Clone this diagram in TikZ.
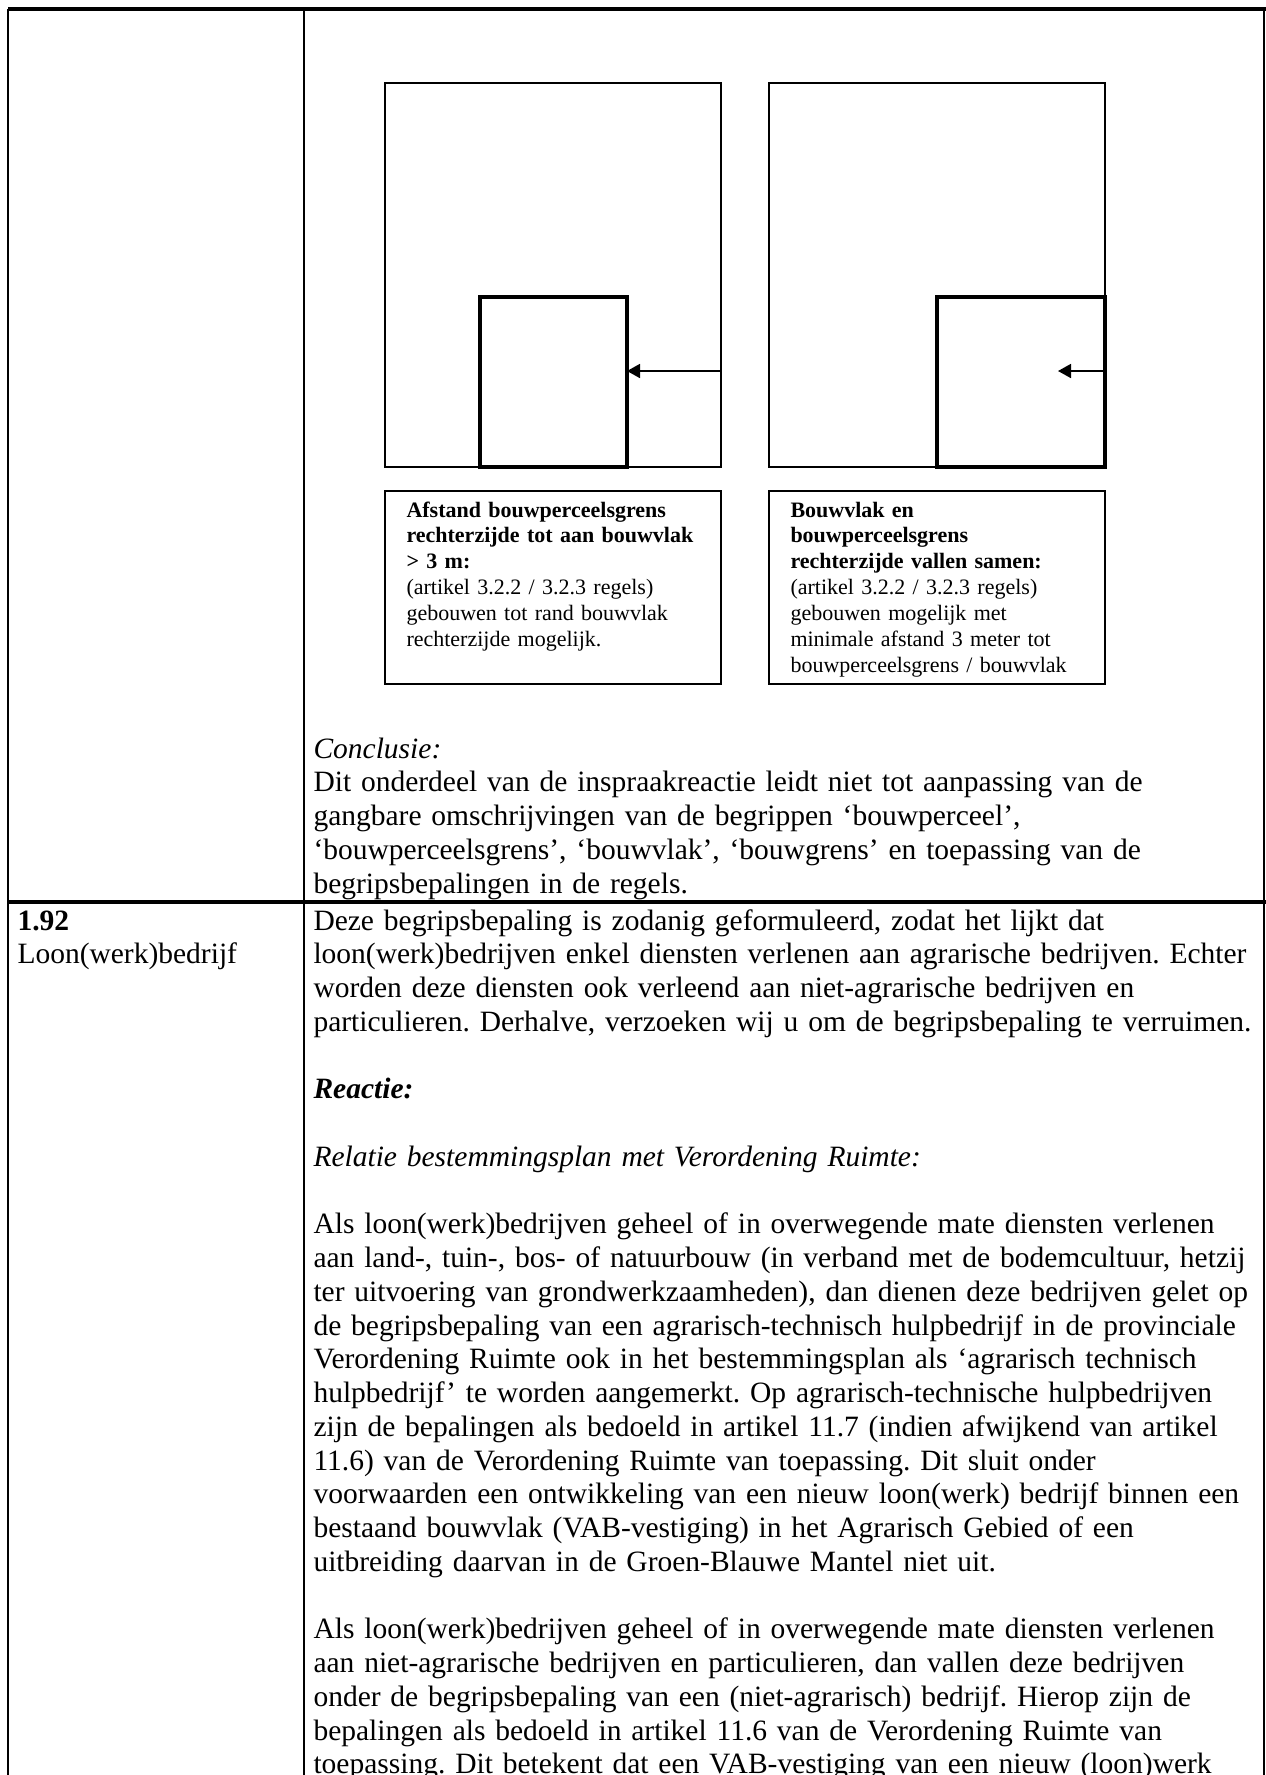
\documentclass[tikz,border=0pt]{standalone}
\usepackage{fontspec}
\setmainfont{Liberation Serif}
\frenchspacing
\usetikzlibrary{arrows.meta, positioning}
\tikzset{
  % Tabel
  tabellijn/.style={line width=1pt},
  dikkelijn/.style={line width=1.7pt},
  % Schets
  perceel/.style={rectangle, draw, line width=0.7pt, inner sep=0pt, outer sep=0pt, minimum width=134.4pt, minimum height=153.6pt},
  bouwvlak/.style={rectangle, draw, line width=1.8pt, inner sep=0pt, outer sep=0pt, minimum height=68pt},
  kader/.style={rectangle, draw, line width=0.8pt, inner sep=0pt, outer sep=0pt, minimum width=134.4pt, minimum height=77.2pt},
  pijl/.style={-{Triangle[length=5.2pt, width=5.6pt]}, line width=0.7pt},
  % Tekst
  kadertekst/.style={anchor=base west, inner sep=0pt, text width=140pt, align=left, font={\fontsize{8.8}{10.35}\selectfont}},
  tekst/.style={anchor=base west, inner sep=0pt, text width=440pt, align=left, font={\fontsize{11.8}{13.5}\selectfont}}
}

\begin{document}
\begin{tikzpicture}[x=0.4pt, y=-0.4pt]
  \useasboundingbox (0,0) rectangle (1266,1775);

  % Tabel
  \draw[dikkelijn] (8,9) -- (1266,9);
  \draw[tabellijn] (8,9) -- (8,1775);
  \draw[tabellijn] (304,9) -- (304,1775);
  \draw[tabellijn] (1264,9) -- (1264,1775);
  \draw[dikkelijn] (8,902) -- (1266,902);

  % Schets links
  \node[perceel, anchor=north west] (percA) at (385,83) {};
  \node[bouwvlak, minimum width=58.8pt, anchor=south west] (vlakA) at (480,467) {};
  \coordinate (randA) at (721,371);
  \draw[pijl] (randA) -- (vlakA.east |- randA);

  % Schets rechts
  \node[perceel, right=19.2pt of percA] (percB) {};
  \node[bouwvlak, minimum width=67.2pt, anchor=south east] (vlakB) at (percB.south east) {};
  \coordinate (randB) at (percB.east |- randA);
  \coordinate (puntB) at (1058,371);
  \draw[pijl] (randB) -- (puntB);

  % Toelichting
  \node[kader, below=9.6pt of percA] (capA) {};
  \node[kadertekst] (tekstA) at ([shift={(21,26)}]capA.north west) {
    \textbf{Afstand bouwperceelsgrens}\\
    \textbf{rechterzijde tot aan bouwvlak}\\
    \textbf{> 3 m:}\\
    (artikel 3.2.2 / 3.2.3 regels)\\
    gebouwen tot rand bouwvlak\\
    rechterzijde mogelijk.
  };
  \node[kader, below=9.6pt of percB] (capB) {};
  \node[kadertekst] (tekstB) at ([shift={(21,26)}]capB.north west) {
    \textbf{Bouwvlak en}\\
    \textbf{bouwperceelsgrens}\\
    \textbf{rechterzijde vallen samen:}\\
    (artikel 3.2.2 / 3.2.3 regels)\\
    gebouwen mogelijk met\\
    minimale afstand 3 meter tot\\
    bouwperceelsgrens / bouwvlak
  };

  \node[tekst] (conclusie) at (313,758) {
    \textit{Conclusie:}\\
    Dit onderdeel van de inspraakreactie leidt niet tot aanpassing van de\\
    gangbare omschrijvingen van de begrippen ‘bouwperceel’,\\
    ‘bouwperceelsgrens’, ‘bouwvlak’, ‘bouwgrens’ en toepassing van de\\
    begripsbepalingen in de regels.
  };

  % Rij 1.92
  \node[tekst, text width=110pt] (nummer) at (17,930) {
    \textbf{1.92}\\
    Loon(werk)bedrijf
  };
  \node[tekst] (inspraak) at (313,930) {
    Deze begripsbepaling is zodanig geformuleerd, zodat het lijkt dat\\
    loon(werk)bedrijven enkel diensten verlenen aan agrarische bedrijven. Echter\\
    worden deze diensten ook verleend aan niet-agrarische bedrijven en\\
    particulieren. Derhalve, verzoeken wij u om de begripsbepaling te verruimen.
  };
  \node[tekst] (reactie) at (313,1098.75) {\textbf{\textit{Reactie:}}};
  \node[tekst] (relatie) at (313,1166.25) {\textit{Relatie bestemmingsplan met Verordening Ruimte:}};
  \node[tekst] (alineaA) at (313,1233.75) {
    Als loon(werk)bedrijven geheel of in overwegende mate diensten verlenen\\
    aan land-, tuin-, bos- of natuurbouw (in verband met de bodemcultuur, hetzij\\
    ter uitvoering van grondwerkzaamheden), dan dienen deze bedrijven gelet op\\
    de begripsbepaling van een agrarisch-technisch hulpbedrijf in de provinciale\\
    Verordening Ruimte ook in het bestemmingsplan als ‘agrarisch technisch\\
    hulpbedrijf’ te worden aangemerkt. Op agrarisch-technische hulpbedrijven\\
    zijn de bepalingen als bedoeld in artikel 11.7 (indien afwijkend van artikel\\
    11.6) van de Verordening Ruimte van toepassing. Dit sluit onder\\
    voorwaarden een ontwikkeling van een nieuw loon(werk) bedrijf binnen een\\
    bestaand bouwvlak (VAB-vestiging) in het Agrarisch Gebied of een\\
    uitbreiding daarvan in de Groen-Blauwe Mantel niet uit.
  };
  \node[tekst] (alineaB) at (313,1638.75) {
    Als loon(werk)bedrijven geheel of in overwegende mate diensten verlenen\\
    aan niet-agrarische bedrijven en particulieren, dan vallen deze bedrijven\\
    onder de begripsbepaling van een (niet-agrarisch) bedrijf. Hierop zijn de\\
    bepalingen als bedoeld in artikel 11.6 van de Verordening Ruimte van\\
    toepassing. Dit betekent dat een VAB-vestiging van een nieuw (loon)werk
  };
\end{tikzpicture}
\end{document}
